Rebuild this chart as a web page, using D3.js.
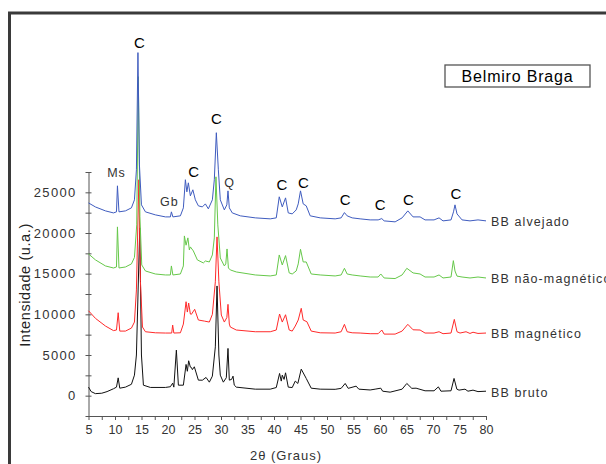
<!DOCTYPE html>
<html>
<head>
<meta charset="utf-8">
<script src="https://cdn.jsdelivr.net/npm/d3@7"></script>
<style>
body { margin: 0; background: #fff; }
text { font-family: "Liberation Sans", Arial, sans-serif; }
</style>
</head>
<body>
<svg id="chart" width="606" height="464"></svg>
<script>
// 数据: [2θ, intensidade]
var alvejado = [[5.00,23700],[6.32,23200],[8.20,22720],[9.71,22470],[10.28,22600],[10.46,25800],[10.75,22600],[11.97,22720],[13.10,23090],[13.67,24080],[14.04,27770],[14.33,42180],[14.61,28370],[14.99,23460],[15.74,22600],[17.62,22230],[19.51,21980],[20.45,21980],[20.64,22600],[20.92,21980],[22.34,22110],[22.90,23090],[23.28,26550],[23.56,25060],[23.84,26170],[24.22,24570],[24.69,25310],[25.16,24080],[25.73,23340],[26.48,23210],[27.05,23580],[27.61,22970],[28.37,24080],[28.74,26550],[29.12,32330],[29.50,27770],[29.87,24080],[30.63,22840],[31.10,23460],[31.32,25180],[31.57,23090],[32.13,22470],[33.64,22110],[36.47,21860],[39.29,21740],[40.43,21860],[40.99,24450],[41.56,23210],[42.18,24320],[42.69,22470],[43.44,22350],[44.19,22840],[44.57,23580],[45.00,25180],[45.51,23580],[46.08,23340],[46.83,22110],[48.72,21860],[51.54,21740],[52.67,21860],[53.29,22510],[53.80,22110],[54.75,21860],[56.25,21740],[58.14,21610],[59.65,21610],[60.34,21770],[60.78,21490],[62.85,21370],[64.17,21860],[65.25,22720],[66.24,21980],[67.56,21980],[68.50,21610],[70.20,21610],[71.14,21860],[71.89,21490],[73.40,21610],[73.87,22600],[74.15,23460],[74.53,22350],[75.48,21610],[76.98,21490],[78.49,21610],[80.00,21490]];

var naoMagnetico = [[5.00,17430],[6.32,16690],[8.20,15950],[9.71,15700],[10.28,15820],[10.46,20750],[10.75,15700],[11.97,15820],[13.10,16200],[13.67,17000],[14.10,21000],[14.40,39220],[14.70,22000],[15.05,16070],[15.74,15330],[17.62,14960],[19.51,14840],[20.45,14840],[20.64,15950],[20.92,14840],[22.34,14960],[22.90,15950],[23.09,19640],[23.41,18500],[23.75,19400],[24.03,17920],[24.22,18290],[24.78,17800],[25.54,16690],[26.67,16320],[27.05,16560],[27.80,16440],[28.37,17300],[28.74,19400],[29.05,26910],[29.40,21000],[29.87,16930],[30.63,15950],[30.90,16200],[31.14,18040],[31.40,15700],[31.76,15460],[32.89,15210],[36.47,14840],[39.29,14720],[40.43,14840],[40.99,17300],[41.56,16070],[42.18,17220],[42.87,15090],[43.44,14960],[44.19,15330],[44.57,16200],[45.00,18000],[45.51,16440],[46.08,16440],[47.02,14960],[48.72,14840],[51.54,14720],[52.67,14840],[53.29,15660],[53.80,14960],[54.75,14840],[56.25,14720],[58.14,14590],[59.65,14590],[60.15,14960],[60.78,14470],[62.85,14400],[64.17,14840],[65.06,15660],[66.24,15090],[67.56,14960],[68.50,14590],[70.20,14590],[71.14,14840],[71.89,14470],[73.40,14590],[73.84,16600],[74.15,15330],[74.53,14700],[75.48,14590],[76.98,14470],[78.49,14590],[80.00,14470]];

var magnetico = [[5.00,10440],[6.32,9500],[8.20,8560],[9.71,8000],[10.28,8070],[10.60,10200],[10.90,7940],[11.97,7940],[13.10,8310],[13.67,9050],[14.04,13000],[14.50,26550],[14.80,14000],[15.18,8440],[15.74,7860],[17.62,7730],[19.51,7700],[20.70,7700],[20.88,8680],[21.10,7700],[22.34,7730],[22.90,8800],[23.41,11550],[23.65,10280],[23.90,11390],[24.22,10040],[24.41,10000],[25.03,10620],[25.73,9300],[26.86,9170],[27.80,9050],[28.37,10000],[28.93,14000],[29.25,19520],[29.60,14000],[30.06,9910],[30.63,9050],[31.10,9600],[31.32,11230],[31.57,8800],[31.76,8440],[32.89,8070],[36.47,7860],[39.29,7860],[40.43,8070],[41.05,10040],[41.56,9050],[42.18,9950],[42.87,8070],[43.44,7940],[44.01,8560],[44.57,9300],[45.14,10740],[45.51,9300],[46.21,9090],[47.02,7940],[48.72,7730],[51.54,7700],[52.67,7860],[53.29,8770],[53.80,7860],[54.75,7730],[56.25,7700],[58.14,7620],[59.65,7620],[60.34,8070],[60.78,7570],[62.85,7570],[64.17,7940],[65.25,8770],[66.24,8100],[67.56,8070],[68.50,7700],[70.20,7700],[71.14,7860],[71.89,7620],[73.40,7700],[74.02,9380],[74.53,7860],[75.10,7700],[76.23,7860],[76.98,7650],[77.55,7800],[78.49,7650],[80.00,7700]];

var bruto = [[5.00,1050],[5.50,500],[6.30,250],[7.50,300],[8.50,500],[9.71,850],[10.28,1050],[10.60,2190],[10.90,920],[11.97,1050],[13.10,1400],[13.67,2520],[14.04,5000],[14.67,20630],[14.99,5000],[15.36,1290],[16.68,1010],[19.51,1010],[20.45,1100],[20.88,1540],[21.10,1050],[21.58,5600],[21.96,1290],[22.90,1290],[23.41,3840],[23.65,3000],[23.90,4290],[24.22,3510],[24.41,3470],[24.60,3200],[24.97,3550],[25.73,1910],[26.48,1900],[27.18,2240],[27.80,1660],[28.37,2400],[28.93,6000],[29.25,13490],[29.60,5000],[29.87,2520],[30.44,1660],[31.00,2200],[31.32,5810],[31.57,1910],[32.00,2000],[32.27,2400],[32.50,1300],[32.89,1050],[36.47,800],[39.29,800],[40.43,1000],[41.05,2730],[41.37,1790],[41.56,2520],[41.90,2000],[42.18,2810],[42.69,1050],[43.44,1000],[44.01,1790],[44.50,1500],[45.14,3260],[46.08,2120],[47.02,920],[48.72,800],[51.54,780],[52.67,900],[53.43,1500],[54.00,900],[55.50,1170],[56.00,800],[58.14,700],[59.08,800],[60.15,920],[60.50,550],[61.91,430],[64.17,800],[65.06,1500],[66.00,900],[66.81,920],[68.50,600],[70.20,600],[71.01,1080],[71.50,550],[73.40,600],[73.97,2120],[74.50,800],[74.91,680],[76.04,800],[76.60,550],[77.55,680],[78.49,500],[80.00,550]];

var seriesNames = ["BB bruto", "BB magnético", "BB não-magnético", "BB alvejado"];
var seriesData = [bruto, magnetico, naoMagnetico, alvejado];
var seriesColors = ["#111111", "#ff2a2a", "#66c84a", "#3f5cbf"];

var xTickLabels = [5,10,15,20,25,30,35,40,45,50,55,60,65,70,75,80];
var xTicks = [5,7.5,10,12.5,15,17.5,20,22.5,25,27.5,30,32.5,35,37.5,40,42.5,45,47.5,50,52.5,55,57.5,60,62.5,65,67.5,70,72.5,75,77.5,80];
var yTickLabels = [0,5000,10000,15000,20000,25000];
var yTicks = [-2500,0,2500,5000,7500,10000,12500,15000,17500,20000,22500,25000,27500];

// 峰标注: [文字, 2θ, intensidade]
var picos = [["C",14.61,43410],["C",29.12,34050],["C",24.84,27560],["C",41.50,25920],["C",45.57,26210],["C",53.43,24080],["C",60.02,23460],["C",65.36,24160],["C",74.34,24810]];
var minerais = [["Ms",10.28,27400],["Gb",20.26,23870],["Q",31.63,26210]];

var svg = d3.select("#chart");

// 外框
svg.append("rect")
  .attr("x", 9.5)
  .attr("y", 13)
  .attr("width", 640)
  .attr("height", 500)
  .attr("fill", "none")
  .attr("stroke", "#3a3a3a")
  .attr("stroke-width", 3);

var x = d3.scaleLinear().domain([5, 80]).range([88.5, 486]);
var y = d3.scaleLinear().domain([-2500, 27500]).range([416, 172]);

// x 轴
var gx = svg.append("g")
  .attr("transform", "translate(0,416)")
  .call(d3.axisBottom(x).tickValues(xTicks).tickSizeInner(4).tickSizeOuter(0)
    .tickFormat(function(d) { return xTickLabels.indexOf(d) >= 0 ? d : ""; }));
gx.select(".domain").attr("stroke", "#555");
gx.selectAll(".tick line").attr("stroke", "#555");
gx.selectAll(".tick text")
  .attr("y", 9)
  .attr("fill", "#333")
  .attr("font-size", 12.5)
  .attr("font-family", "Liberation Sans, Arial, sans-serif");

// y 轴
var gy = svg.append("g")
  .attr("transform", "translate(88.5,0)")
  .call(d3.axisLeft(y).tickValues(yTicks).tickSizeInner(3).tickSizeOuter(0)
    .tickFormat(function(d) { return yTickLabels.indexOf(d) >= 0 ? d : ""; }));
gy.select(".domain").attr("stroke", "#555");
gy.selectAll(".tick line").attr("stroke", "#555").attr("x1", 3);
gy.selectAll(".tick text")
  .attr("x", -12)
  .attr("fill", "#333")
  .attr("font-size", 13)
  .attr("letter-spacing", "1.3px")
  .attr("font-family", "Liberation Sans, Arial, sans-serif");

// 曲线
var line = d3.line()
  .x(function(d) { return x(d[0]); })
  .y(function(d) { return y(d[1]); });

seriesData.forEach(function(s, i) {
  svg.append("path")
    .datum(s)
    .attr("d", line)
    .attr("fill", "none")
    .attr("stroke", seriesColors[i])
    .attr("stroke-width", 1)
    .attr("stroke-linejoin", "round");

  svg.append("text")
    .attr("x", x(80) + 5)
    .attr("y", y(s[s.length - 1][1]) + 1)
    .attr("dy", "0.35em")
    .attr("fill", "#333")
    .attr("font-size", 12.5)
    .attr("letter-spacing", "1.1px")
    .text(seriesNames[i]);
});

// 标注
svg.selectAll(".pico")
  .data(picos)
  .enter().append("text")
  .attr("x", function(d) { return x(d[1]); })
  .attr("y", function(d) { return y(d[2]); })
  .attr("dy", "0.36em")
  .attr("text-anchor", "middle")
  .attr("fill", "#000")
  .attr("font-size", 15)
  .text(function(d) { return d[0]; });

svg.selectAll(".mineral")
  .data(minerais)
  .enter().append("text")
  .attr("x", function(d) { return x(d[1]); })
  .attr("y", function(d) { return y(d[2]); })
  .attr("dy", "0.36em")
  .attr("text-anchor", "middle")
  .attr("fill", "#333")
  .attr("font-size", 12.5)
  .attr("letter-spacing", "1px")
  .text(function(d) { return d[0]; });

// 标题框
svg.append("rect")
  .attr("x", 445)
  .attr("y", 65)
  .attr("width", 145)
  .attr("height", 22)
  .attr("fill", "#fff")
  .attr("stroke", "#555")
  .attr("stroke-width", 1.3);

svg.append("text")
  .attr("x", 517.5)
  .attr("y", 76)
  .attr("dy", "0.36em")
  .attr("text-anchor", "middle")
  .attr("fill", "#000")
  .attr("font-size", 16)
  .attr("letter-spacing", "0.8px")
  .text("Belmiro Braga");

// 轴标题
svg.append("text")
  .attr("x", 286)
  .attr("y", 455)
  .attr("dy", "0.36em")
  .attr("text-anchor", "middle")
  .attr("fill", "#333")
  .attr("font-size", 13)
  .attr("letter-spacing", "1px")
  .text("2θ (Graus)");

svg.append("text")
  .attr("transform", "translate(25,285) rotate(-90)")
  .attr("dy", "0.36em")
  .attr("text-anchor", "middle")
  .attr("fill", "#222")
  .attr("font-size", 14.5)
  .attr("letter-spacing", "0.6px")
  .text("Intensidade (u.a.)");
</script>
</body>
</html>
